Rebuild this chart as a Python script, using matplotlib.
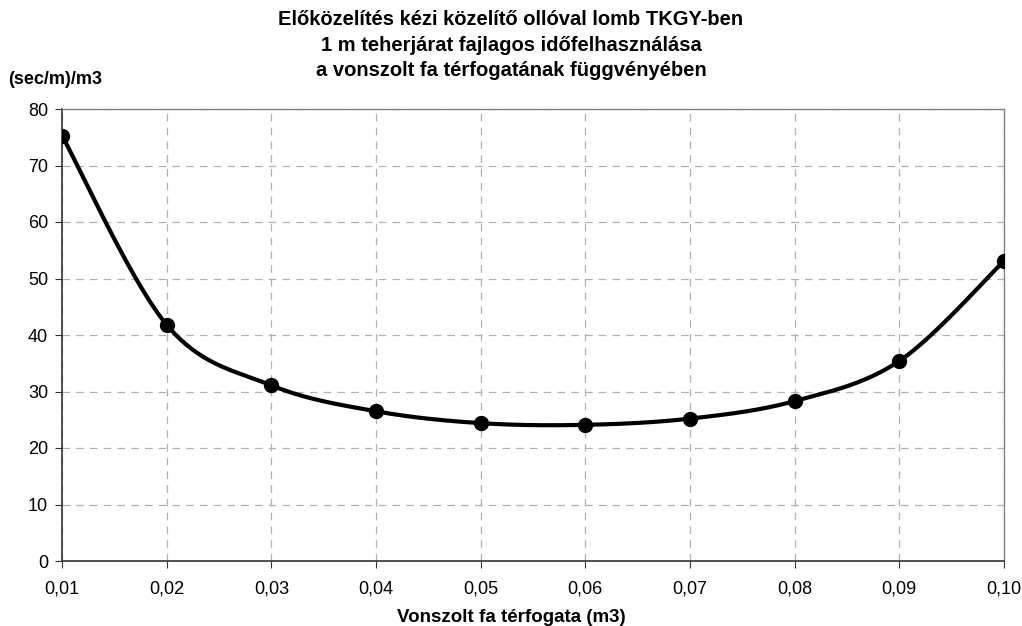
import numpy as np
import matplotlib
matplotlib.use("Agg")
import matplotlib.pyplot as plt

plt.rcParams['font.family'] = ['Liberation Sans', 'DejaVu Sans']

# Data
volume = [0.01, 0.02, 0.03, 0.04, 0.05, 0.06, 0.07, 0.08, 0.09, 0.10]
time_per_m = [75.3, 41.8, 31.1, 26.5, 24.4, 24.1, 25.2, 28.3, 35.4, 53.1]
x_ticks = [0.01, 0.02, 0.03, 0.04, 0.05, 0.06, 0.07, 0.08, 0.09, 0.10]
x_labels = ['0,01', '0,02', '0,03', '0,04', '0,05', '0,06', '0,07', '0,08', '0,09', '0,10']
y_ticks = [0, 10, 20, 30, 40, 50, 60, 70, 80]

title = ('Előközelítés kézi közelítő ollóval lomb TKGY-ben\n'
         '1 m teherjárat fajlagos időfelhasználása\n'
         'a vonszolt fa térfogatának függvényében')


# Excel style smoothed line: bezier segments with catmull-rom control points
def smooth_line(xs, ys, n=40):
    xs = np.asarray(xs, float)
    ys = np.asarray(ys, float)
    px = np.concatenate([[xs[0]], xs, [xs[-1]]])
    py = np.concatenate([[ys[0]], ys, [ys[-1]]])
    out_x, out_y = [], []
    t = np.linspace(0, 1, n)
    for i in range(1, len(px) - 2):
        p0 = np.array([px[i], py[i]])
        p3 = np.array([px[i + 1], py[i + 1]])
        c1 = p0 + (np.array([px[i + 1], py[i + 1]]) - np.array([px[i - 1], py[i - 1]])) / 6
        c2 = p3 - (np.array([px[i + 2], py[i + 2]]) - np.array([px[i], py[i]])) / 6
        b = ((1 - t) ** 3)[:, None] * p0 + (3 * (1 - t) ** 2 * t)[:, None] * c1 \
            + (3 * (1 - t) * t ** 2)[:, None] * c2 + (t ** 3)[:, None] * p3
        out_x.extend(b[:, 0])
        out_y.extend(b[:, 1])
    return out_x, out_y


fig = plt.figure(figsize=(10.22, 6.26), dpi=100)
ax = fig.add_axes([62 / 1022, 1 - 561 / 626, (1004 - 62) / 1022, (561 - 109) / 626])

sx, sy = smooth_line(volume, time_per_m)
ax.plot(sx, sy, color='black', lw=3, zorder=3)
ax.plot(volume, time_per_m, 'o', color='black', markersize=10, zorder=4)

ax.set_xlim(0.01, 0.10)
ax.set_ylim(0, 80)
ax.set_xticks(x_ticks)
ax.set_xticklabels(x_labels)
ax.set_yticks(y_ticks)
ax.tick_params(axis='both', labelsize=13, direction='out', length=5, color='#333333', pad=5)
ax.tick_params(axis='x', pad=9)

ax.grid(True, color='#b0b0b0', linestyle=(0, (6, 5)), lw=0.9)
for side in ['left', 'bottom']:
    ax.spines[side].set_color('#333333')
    ax.spines[side].set_linewidth(1.2)
for side in ['top', 'right']:
    ax.spines[side].set_color('#808080')
    ax.spines[side].set_linewidth(1.0)

fig.text(0.5, 1 - 618 / 626, 'Vonszolt fa térfogata (m3)', fontsize=13.5, fontweight='bold',
         ha='center', va='center')
fig.text(8 / 1022, 1 - 80 / 626, '(sec/m)/m3', fontsize=13, fontweight='bold', va='center', ha='left')
fig.text(0.5, 1 - 10 / 626, title, fontsize=14.5, fontweight='bold', ha='center', va='top',
         linespacing=1.45)

fig.savefig('out.png', dpi=100)
